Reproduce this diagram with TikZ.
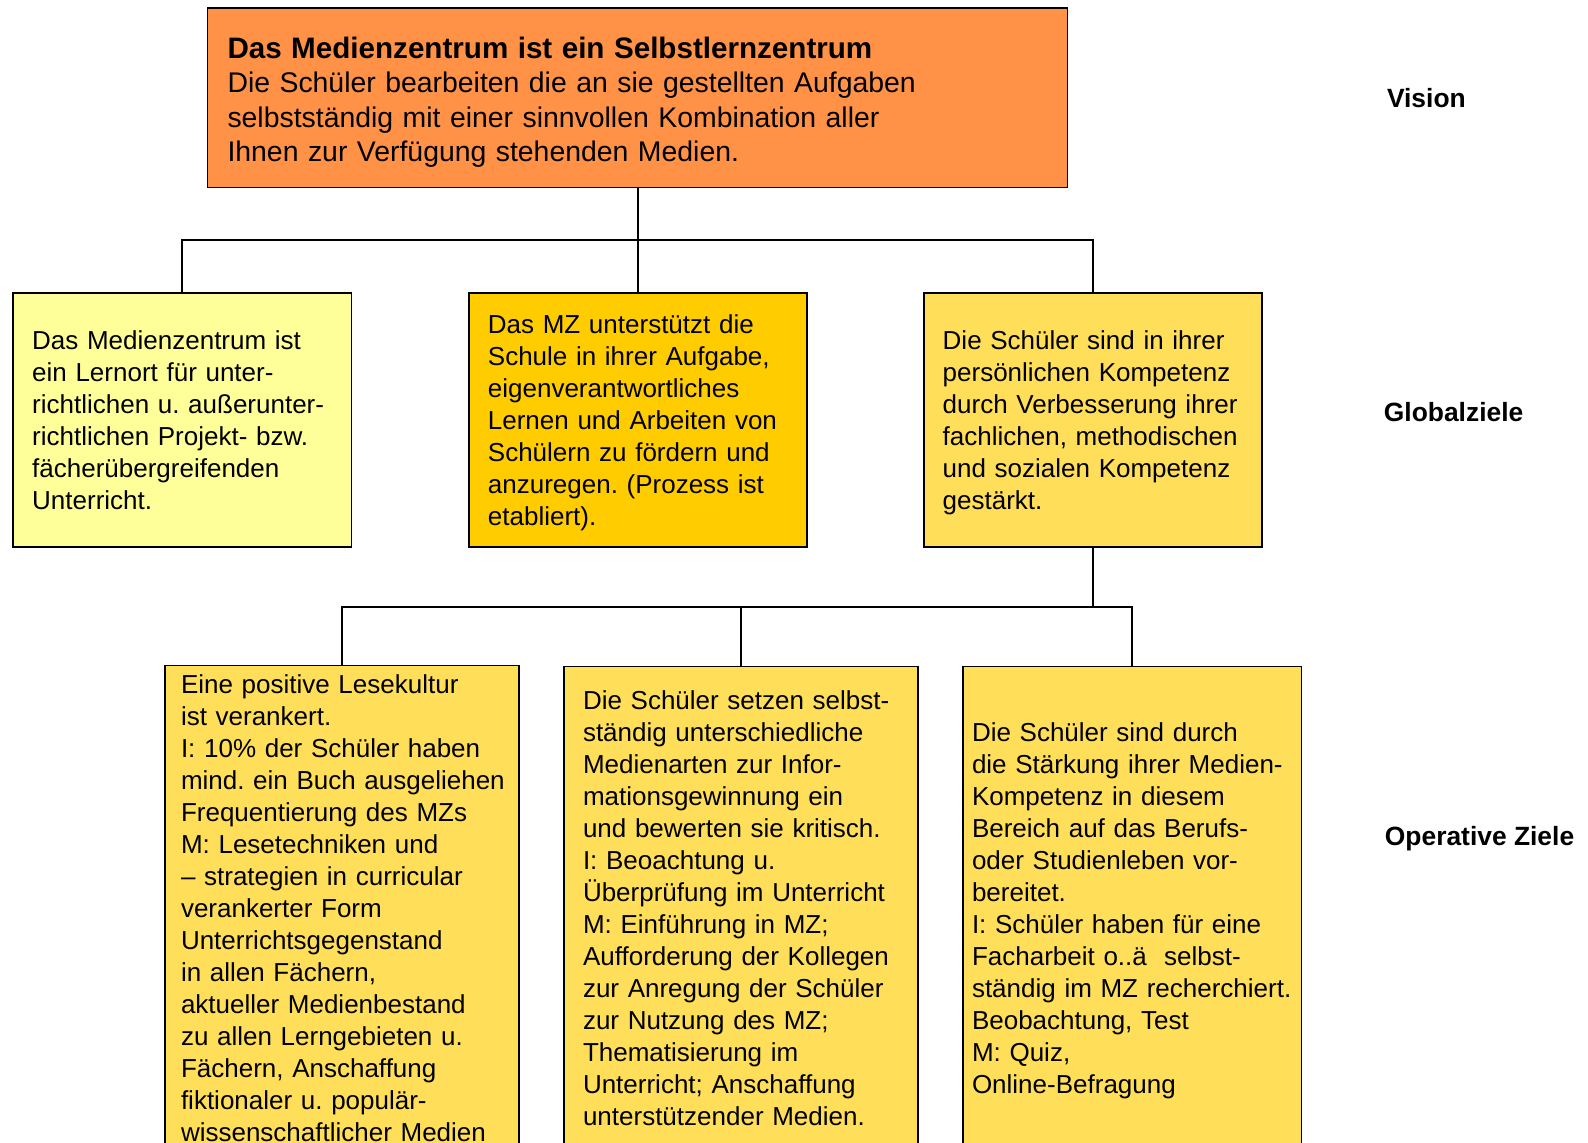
\documentclass[tikz,border=0pt]{standalone}
\usepackage{fontspec}
\setmainfont{Liberation Sans}
\definecolor{visionorange}{RGB}{255,146,70}
\definecolor{paleyellow}{RGB}{255,255,153}
\definecolor{goldyellow}{RGB}{255,204,0}
\definecolor{warmyellow}{RGB}{255,222,89}
\begin{document}
\begin{tikzpicture}[x=0.5pt, y=-0.5pt,
    every box/.style={draw, line width=0.9pt, align=left, inner ysep=0pt,
      font=\fontsize{13}{16}\selectfont\frenchspacing,
      execute at begin node={\rule{0pt}{14pt}},
      execute at end node={\rule[-4.6pt]{0pt}{4.6pt}}},
    vision box/.style={fill=visionorange, minimum width=430pt, minimum height=89.7pt,
      text width=410pt, inner xsep=10pt,
      font=\fontsize{14.2}{17.2}\selectfont\frenchspacing,
      execute at begin node={\rule{0pt}{17pt}}},
    global box/.style={minimum width=169.1pt, minimum height=127.1pt,
      text width=150.1pt, inner xsep=9.5pt},
    op box/.style={fill=warmyellow, minimum height=241.6pt,
      execute at begin node={\rule{0pt}{13pt}}},
    level/.style={font=\fontsize{13.2}{16}\selectfont\bfseries, anchor=west, inner sep=0pt},
    link/.style={line width=1pt}]

    \useasboundingbox (0,0) rectangle (1588,1143);
    \clip (0,0) rectangle (1588,1143);

    % vision
    \node [every box, vision box] (vision) at (637.5,97.8)
    {{\fontsize{14.8}{17.2}\selectfont\textbf{Das Medienzentrum ist ein Selbstlernzentrum}}\\
     Die Schüler bearbeiten die an sie gestellten Aufgaben\\
     selbstständig mit einer sinnvollen Kombination aller\\
     Ihnen zur Verfügung stehenden Medien.};

    % global goals
    \node [every box, global box, fill=paleyellow] (global-1) at (182.3,419.8)
    {Das Medienzentrum ist\\ ein Lernort für unter-\\ richtlichen u. außerunter-\\
     richtlichen Projekt- bzw.\\ fächerübergreifenden\\ Unterricht.};

    \node [every box, global box, fill=goldyellow] (global-2) at (638,419.8)
    {Das MZ unterstützt die\\ Schule in ihrer Aufgabe,\\ eigenverantwortliches\\
     Lernen und Arbeiten von\\ Schülern zu fördern und\\ anzuregen. (Prozess ist\\ etabliert).};

    \node [every box, global box, fill=warmyellow] (global-3) at (1092.8,419.8)
    {Die Schüler sind in ihrer\\ persönlichen Kompetenz\\ durch Verbesserung ihrer\\
     fachlichen, methodischen\\ und sozialen Kompetenz\\ gestärkt.};

    % operative goals
    \node [every box, op box, minimum width=176.8pt, text width=160.8pt, inner xsep=8pt]
    (op-1) at (341.8,908)
    {Eine positive Lesekultur\\ ist verankert.\\ I: 10\% der Schüler haben\\
     \mbox{mind. ein Buch ausgeliehen}\\ Frequentierung des MZs\\ M: Lesetechniken und\\
     – strategien in curricular\\ verankerter Form\\ Unterrichtsgegenstand\\
     in allen Fächern,\\ aktueller Medienbestand\\ zu allen Lerngebieten u.\\
     Fächern, Anschaffung\\ fiktionaler u. populär-\\ wissenschaftlicher Medien};

    \node [every box, op box, minimum width=176.8pt, text width=157.8pt, inner xsep=9.5pt]
    (op-2) at (740.8,908)
    {Die Schüler setzen selbst-\\ ständig unterschiedliche\\ Medienarten zur Infor-\\
     mationsgewinnung ein\\ und bewerten sie kritisch.\\ I: Beoachtung u.\\
     Überprüfung im Unterricht\\ M: Einführung in MZ;\\ Aufforderung der Kollegen\\
     zur Anregung der Schüler\\ zur Nutzung des MZ;\\ Thematisierung im\\
     Unterricht; Anschaffung\\ unterstützender Medien.};

    \node [every box, op box, minimum width=169.2pt, text width=160.2pt, inner xsep=4.5pt]
    (op-3) at (1132.2,908)
    {Die Schüler sind durch\\ die Stärkung ihrer Medien-\\ Kompetenz in diesem\\
     Bereich auf das Berufs-\\ oder Studienleben vor-\\ bereitet.\\
     I: Schüler haben für eine\\ Facharbeit o..ä~ selbst-\\ \mbox{ständig im MZ recherchiert.}\\
     Beobachtung, Test\\ M: Quiz,\\ Online-Befragung};

    % connectors
    \coordinate (bus-1) at (0,240);
    \coordinate (bus-2) at (0,606.6);

    \foreach \i in {1,2,3}
    \draw [link] (vision.south) |- (bus-1 -| global-\i) -- (global-\i.north);

    \foreach \i in {1,2,3}
    \draw [link] (global-3.south) |- (bus-2 -| op-\i) -- (op-\i.north);

    % levels
    \foreach \l/\x/\y [count=\i] in {Vision/1386.6/98.2, Globalziele/1383.5/412,
      Operative Ziele/1384.5/838.6}
    \node [level] (level-\i) at (\x,\y) {\l};
\end{tikzpicture}
\end{document}
